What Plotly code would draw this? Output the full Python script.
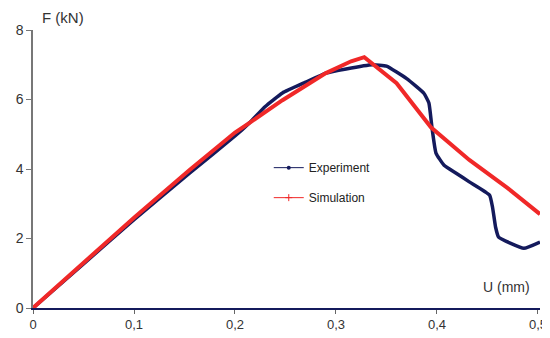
import plotly.graph_objects as go

exp_x = [0, 0.05, 0.1, 0.155, 0.2, 0.214, 0.23, 0.247, 0.27, 0.29, 0.31, 0.336, 0.35, 0.37, 0.387, 0.392, 0.395, 0.399, 0.407, 0.419, 0.432, 0.452, 0.455, 0.458, 0.461, 0.486, 0.502]
exp_y = [0, 1.27, 2.54, 3.88, 4.95, 5.32, 5.8, 6.19, 6.5, 6.76, 6.88, 7.0, 6.96, 6.6, 6.18, 5.9, 5.2, 4.46, 4.11, 3.88, 3.63, 3.25, 2.9, 2.33, 2.04, 1.72, 1.9]

sim_x = [0, 0.05, 0.1, 0.155, 0.2, 0.214, 0.247, 0.29, 0.315, 0.328, 0.36, 0.394, 0.432, 0.47, 0.502]
sim_y = [0, 1.3, 2.6, 3.97, 5.05, 5.32, 5.98, 6.76, 7.1, 7.22, 6.47, 5.2, 4.26, 3.45, 2.7]

x_ticks = [0, 0.1, 0.2, 0.3, 0.4, 0.5]
x_labels = ["0", "0,1", "0,2", "0,3", "0,4", "0,5"]
y_ticks = [0, 2, 4, 6, 8]

navy = "#141a5c"
red = "#f02828"
font = "Liberation Sans, Arial, sans-serif"

fig = go.Figure()
fig.add_trace(go.Scatter(x=exp_x, y=exp_y, mode="lines", line=dict(color=navy, width=3.5, shape="spline", smoothing=0.4),
                         showlegend=False))
fig.add_trace(go.Scatter(x=sim_x, y=sim_y, mode="lines", line=dict(color=red, width=4),
                         showlegend=False))
fig.add_trace(go.Scatter(x=[None], y=[None], mode="lines+markers", name="Experiment", legendgroup="e",
                         line=dict(color=navy, width=1), marker=dict(color=navy, size=4)))
fig.add_trace(go.Scatter(x=[None], y=[None], mode="lines+markers", name="Simulation", legendgroup="s",
                         line=dict(color=red, width=1), marker=dict(color=red, size=5, symbol="cross-thin",
                                                                    line=dict(color=red, width=1))))

fig.update_layout(
    width=542, height=330,
    margin=dict(l=25, r=10, t=22, b=30),
    plot_bgcolor="white", paper_bgcolor="white",
    separators=",.",
    font=dict(family=font, size=13, color="#333333"),
    showlegend=True,
    legend=dict(x=0.465, y=0.557, xanchor="left", yanchor="top", bgcolor="rgba(0,0,0,0)",
                font=dict(size=12, color="#222222"), itemwidth=30, tracegroupgap=11),
    xaxis=dict(range=[0, 0.502], tickvals=x_ticks, ticktext=x_labels, showgrid=False, zeroline=False,
               showline=True, linecolor=navy, linewidth=1.5, ticks="outside", ticklen=4,
               tickcolor="#666666", tickfont=dict(size=13, color="#333333"), automargin=False,
               ticklabeloverflow="allow"),
    yaxis=dict(range=[0, 8], tickvals=y_ticks, showgrid=False, zeroline=False,
               showline=True, linecolor="#777777", linewidth=1.5, ticks="outside", ticklen=5,
               tickcolor="#777777", tickfont=dict(size=14, color="#333333"), automargin=False),
    annotations=[
        dict(text="F (kN)", xref="paper", yref="paper", x=0.013, y=1.045, xanchor="left", yanchor="middle",
             showarrow=False, font=dict(size=15, color="#333333")),
        dict(text="U (mm)", xref="paper", yref="paper", x=0.985, y=0.075, xanchor="right", yanchor="middle",
             showarrow=False, font=dict(size=14, color="#333333")),
    ],
)

fig.write_html("out.html")
